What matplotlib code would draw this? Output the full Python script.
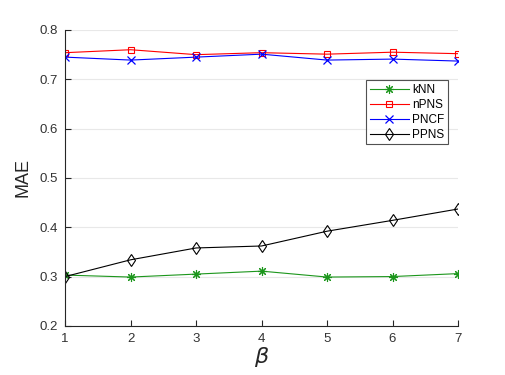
import matplotlib
matplotlib.use("Agg")
import matplotlib.pyplot as plt

plt.rcParams['font.family'] = ['Liberation Sans', 'DejaVu Sans']
plt.rcParams['mathtext.fontset'] = 'dejavusans'

beta = [1, 2, 3, 4, 5, 6, 7]
knn = [0.303, 0.299, 0.305, 0.311, 0.299, 0.300, 0.306]
npns = [0.754, 0.760, 0.750, 0.754, 0.751, 0.755, 0.752]
pncf = [0.745, 0.739, 0.745, 0.751, 0.739, 0.741, 0.737]
ppns = [0.300, 0.334, 0.358, 0.362, 0.392, 0.414, 0.437]
yticks = [0.2, 0.3, 0.4, 0.5, 0.6, 0.7, 0.8]

fig = plt.figure(figsize=(5.05, 3.75), dpi=100)
ax = fig.add_axes([0.129, 0.131, 0.778, 0.789])

lw = 0.8
ax.plot(beta, knn, color='#1c961c', marker=(8, 2, 0), markersize=6.5, lw=lw, label='kNN', markeredgewidth=0.8)
ax.plot(beta, npns, color='red', marker='s', markersize=5, markerfacecolor='none', lw=lw, label='nPNS', markeredgewidth=0.8)
ax.plot(beta, pncf, color='blue', marker='x', markersize=5.5, lw=lw, label='PNCF', markeredgewidth=0.9)
ax.plot(beta, ppns, color='black', marker='d', markersize=6.5, markerfacecolor='none', lw=lw, label='PPNS', markeredgewidth=0.8)

ax.set_xlim(1, 7)
ax.set_ylim(0.2, 0.8)
ax.set_xticks(beta)
ax.set_yticks(yticks)
ax.set_yticklabels([f"{v:.1f}" for v in yticks])
ax.yaxis.grid(True, color='#e8e8e8', lw=0.8)
ax.set_axisbelow(True)
for s in ['top', 'right']:
    ax.spines[s].set_visible(False)
for s in ['left', 'bottom']:
    ax.spines[s].set_color('#262626')
    ax.spines[s].set_linewidth(0.8)
ax.tick_params(direction='in', length=4, width=0.8, colors='#262626', labelsize=9.5, pad=5)
ax.tick_params(labelcolor='#333333')

ax.set_xlabel(r'$\beta$', fontsize=16, color='#262626', labelpad=0)
ax.set_ylabel('MAE', fontsize=13, color='#262626', labelpad=6)

leg = ax.legend(loc='upper right', bbox_to_anchor=(0.975, 0.83), fontsize=8.5, frameon=True,
                fancybox=False, edgecolor='#262626', handlelength=3.3, handletextpad=0.3,
                borderpad=0.3, labelspacing=0.25, borderaxespad=0)
leg.get_frame().set_linewidth(0.8)

fig.savefig('out.png', dpi=100)
